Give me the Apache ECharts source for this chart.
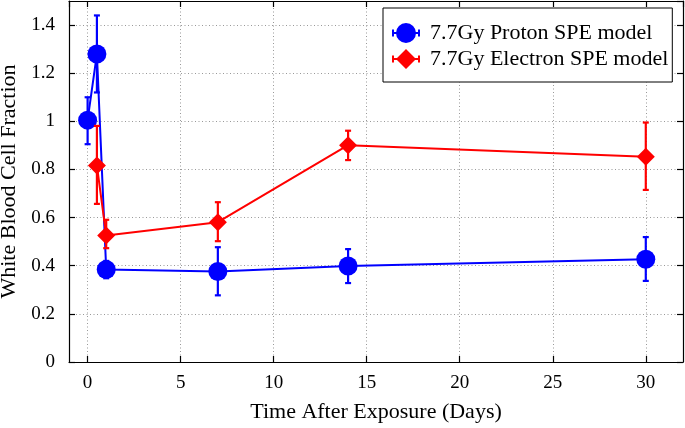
<!DOCTYPE html>
<html>
<head>
<meta charset="utf-8">
<script src="https://cdn.jsdelivr.net/npm/echarts@6/dist/echarts.min.js"></script>
<style>html,body{margin:0;padding:0;background:#fff}#c{width:685px;height:428px}</style>
</head>
<body>
<div id="c"></div>
<script>
var days = [0, 0.5, 1, 7, 14, 30];
var protonMean = [1.005, 1.28, 0.384, 0.376, 0.399, 0.427];
var protonLo   = [0.905, 1.12, 0.348, 0.277, 0.328, 0.337];
var protonHi   = [1.10, 1.44, 0.42, 0.477, 0.469, 0.519];
var elecDays   = [0.5, 1, 7, 14, 30];
var elecMean   = [0.816, 0.526, 0.581, 0.901, 0.853];
var elecLo     = [0.657, 0.473, 0.502, 0.839, 0.715];
var elecHi     = [0.981, 0.591, 0.664, 0.961, 0.995];
var seriesNames = ['7.7Gy Proton SPE model', '7.7Gy Electron SPE model'];
var xTitle = 'Time After Exposure (Days)';
var yTitle = 'White Blood Cell Fraction';

var BLUE = '#0000ff', RED = '#ff0000';
var FONT = 'Liberation Serif';

function pts(xs, ys) { return xs.map(function (x, i) { return [x, ys[i]]; }); }
function errData(xs, lo, hi) { return xs.map(function (x, i) { return [x, lo[i], hi[i]]; }); }

function errRender(color) {
  return function (params, api) {
    var x = api.value(0);
    var lo = api.coord([x, api.value(1)]);
    var hi = api.coord([x, api.value(2)]);
    var w = 3;
    var st = { stroke: color, lineWidth: 2.2 };
    return { type: 'group', children: [
      { type: 'line', shape: { x1: lo[0], y1: lo[1], x2: hi[0], y2: hi[1] }, style: st },
      { type: 'line', shape: { x1: lo[0] - w, y1: lo[1], x2: lo[0] + w, y2: lo[1] }, style: st },
      { type: 'line', shape: { x1: hi[0] - w, y1: hi[1], x2: hi[0] + w, y2: hi[1] }, style: st }
    ]};
  };
}

var circleIcon = 'path://M0,6.5 L2,6.5 L2,9 L26,9 L26,6.5 L28,6.5 L28,13.5 L26,13.5 L26,11 L2,11 L2,13.5 L0,13.5 Z M24,10 A10,10 0 1,1 4,10 A10,10 0 1,1 24,10 Z';
var diamondIcon = 'path://M0,6.5 L2,6.5 L2,9 L26,9 L26,6.5 L28,6.5 L28,13.5 L26,13.5 L26,11 L2,11 L2,13.5 L0,13.5 Z M14,0 L24,10 L14,20 L4,10 Z';

var axisLineStyle = { show: true, onZero: false, lineStyle: { color: '#000', width: 1.2 } };
var gridLine = { show: true, lineStyle: { color: '#999', width: 1, type: [1, 2.5] } };
var tickStyle = { show: true, inside: true, length: 6, lineStyle: { color: '#000', width: 1.2 } };

var chart = echarts.init(document.getElementById('c'));
chart.setOption({
  animation: false,
  backgroundColor: '#fff',
  textStyle: { fontFamily: FONT },
  grid: { left: 69, right: 2, top: 1, bottom: 66, containLabel: false, outerBoundsMode: 'none' },
  legend: {
    orient: 'vertical', left: 383, top: 8,
    padding: [14, 4, 12, 9], itemGap: 4,
    itemWidth: 28, itemHeight: 20,
    backgroundColor: '#fff', borderColor: '#000', borderWidth: 1, borderRadius: 0,
    textStyle: { fontFamily: FONT, fontSize: 22, color: '#000', padding: [0, 0, 0, 5] },
    itemStyle: { borderWidth: 0 },
    data: [
      { name: seriesNames[0], icon: circleIcon },
      { name: seriesNames[1], icon: diamondIcon }
    ]
  },
  xAxis: [{
    type: 'value', min: -1, max: 32, position: 'bottom',
    name: xTitle, nameLocation: 'middle', nameGap: 39,
    nameTextStyle: { fontFamily: FONT, fontSize: 22, color: '#000' },
    axisLine: axisLineStyle,
    axisTick: tickStyle,
    axisLabel: { fontFamily: FONT, fontSize: 19, color: '#000', margin: 12, showMinLabel: false, showMaxLabel: false },
    splitLine: gridLine
  }, {
    type: 'value', min: -1, max: 32, position: 'top',
    axisLine: axisLineStyle,
    axisTick: tickStyle,
    axisLabel: { show: false }, splitLine: { show: false }
  }],
  yAxis: [{
    type: 'value', min: 0, max: 1.5, interval: 0.2, position: 'left',
    name: yTitle, nameLocation: 'middle', nameGap: 49,
    nameTextStyle: { fontFamily: FONT, fontSize: 22, color: '#000' },
    axisLine: axisLineStyle,
    axisTick: tickStyle,
    axisLabel: { fontFamily: FONT, fontSize: 19, color: '#000', margin: 14, showMaxLabel: false },
    splitLine: gridLine
  }, {
    type: 'value', min: 0, max: 1.5, interval: 0.2, position: 'right',
    axisLine: axisLineStyle,
    axisTick: tickStyle,
    axisLabel: { show: false }, splitLine: { show: false }
  }],
  series: [
    {
      name: seriesNames[0], type: 'line', data: pts(days, protonMean),
      symbol: 'circle', symbolSize: 19, showSymbol: true,
      itemStyle: { color: BLUE, borderWidth: 0 }, lineStyle: { color: BLUE, width: 2 }, z: 2
    },
    {
      name: seriesNames[0], type: 'custom', data: errData(days, protonLo, protonHi),
      renderItem: errRender(BLUE), encode: { x: 0, y: [1, 2] }, z: 3
    },
    {
      name: seriesNames[1], type: 'line', data: pts(elecDays, elecMean),
      symbol: 'diamond', symbolSize: [18, 18], showSymbol: true,
      itemStyle: { color: RED, borderWidth: 0 }, lineStyle: { color: RED, width: 2 }, z: 4
    },
    {
      name: seriesNames[1], type: 'custom', data: errData(elecDays, elecLo, elecHi),
      renderItem: errRender(RED), encode: { x: 0, y: [1, 2] }, z: 5
    }
  ]
});
</script>
</body>
</html>
